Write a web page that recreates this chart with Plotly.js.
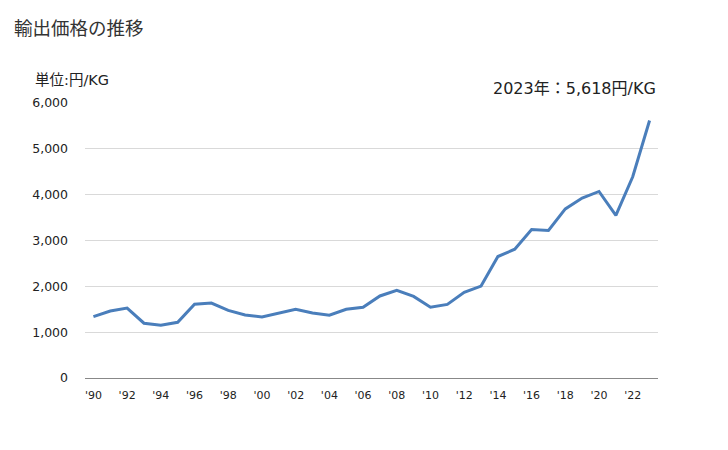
<!DOCTYPE html>
<html>
<head>
<meta charset="utf-8">
<script src="https://cdn.plot.ly/plotly-3.0.1.min.js"></script>
<style>html,body{margin:0;padding:0;background:#fff;}#chart{width:728px;height:450px;}</style>
</head>
<body>
<div id="chart"></div>
<script>
const years = [1990,1991,1992,1993,1994,1995,1996,1997,1998,1999,2000,2001,2002,2003,2004,2005,2006,2007,2008,2009,2010,2011,2012,2013,2014,2015,2016,2017,2018,2019,2020,2021,2022,2023];
const prices = [1340,1460,1525,1195,1150,1215,1610,1635,1475,1375,1330,1415,1500,1420,1370,1500,1545,1790,1915,1780,1545,1605,1870,2005,2650,2810,3240,3220,3690,3925,4070,3550,4390,5618];
const tickYears = [1990,1992,1994,1996,1998,2000,2002,2004,2006,2008,2010,2012,2014,2016,2018,2020,2022];
const tickLabels = ["'90","'92","'94","'96","'98","'00","'02","'04","'06","'08","'10","'12","'14","'16","'18","'20","'22"];
const yTicks = [0,1000,2000,3000,4000,5000,6000];
const yTickLabels = ["0","1,000","2,000","3,000","4,000","5,000","6,000"];
const titleText = "輸出価格の推移";
const unitText = "単位:円/KG";
const noteText = "2023年：5,618円/KG";

const fontFam = "'DejaVu Sans', 'Noto Sans CJK JP', sans-serif";
const W = 573, H = 275, L = 85, T = 103;
Plotly.newPlot('chart', [{
  x: years, y: prices, type: 'scatter', mode: 'lines',
  line: {color: '#4a7ebb', width: 3}, hoverinfo: 'skip'
}], {
  width: 728, height: 450,
  margin: {l: L, r: 70, t: T, b: 72},
  paper_bgcolor: '#fff', plot_bgcolor: '#fff',
  font: {family: fontFam, color: '#333', size: 12},
  showlegend: false,
  xaxis: {
    range: [1989.5, 2023.5], tickvals: tickYears, ticktext: tickLabels,
    showgrid: false, zeroline: false, showline: true, linecolor: '#888', linewidth: 1,
    ticks: '', ticklabelstandoff: 7, tickfont: {size: 11, color: '#222', family: fontFam}
  },
  yaxis: {
    range: [0, 6000], tickvals: yTicks, ticktext: yTickLabels,
    showgrid: true, gridcolor: '#d9d9d9', gridwidth: 1, zeroline: false, showline: false,
    ticks: '', ticklabelstandoff: 16, tickfont: {size: 12.5, color: '#222', family: fontFam}
  },
  annotations: [
    {text: titleText, xref: 'paper', yref: 'paper', x: (12-L)/W, y: 1 + (T-28)/H, xanchor: 'left', yanchor: 'middle', showarrow: false, font: {size: 18.5, color: '#333', family: fontFam}},
    {text: unitText, xref: 'paper', yref: 'paper', x: (33-L)/W, y: 1 + (T-80)/H, xanchor: 'left', yanchor: 'middle', showarrow: false, font: {size: 14.5, color: '#222', family: fontFam}},
    {text: noteText, xref: 'paper', yref: 'paper', x: (658-L)/W, y: 1 + (T-89)/H, xanchor: 'right', yanchor: 'middle', showarrow: false, font: {size: 16, color: '#222', family: fontFam}}
  ]
}, {displayModeBar: false, staticPlot: true});
</script>
</body>
</html>
